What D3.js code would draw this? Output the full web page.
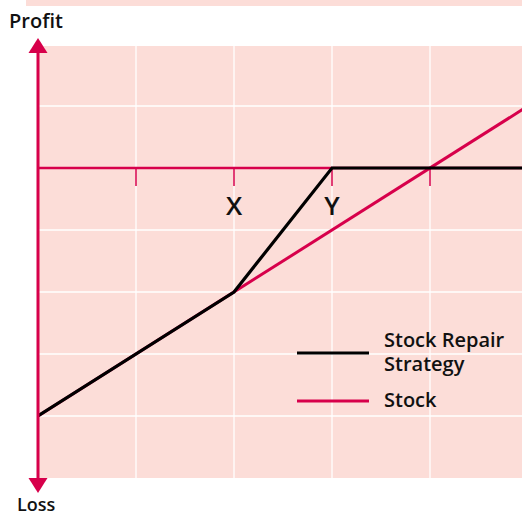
<!DOCTYPE html>
<html>
<head>
<meta charset="utf-8">
<script src="https://cdn.jsdelivr.net/npm/d3@7"></script>
<style>
  body { margin: 0; background: #fff; }
  svg { display: block; }
  text { font-family: "Open Sans", sans-serif; font-weight: 600; fill: #111; }
</style>
</head>
<body>
<svg id="chart"></svg>
<script>
// chart values
const gridX = [1, 2, 3, 4];
const gridY = [1, -1, -2, -3, -4];
const tickLabels = [{ x: 2, label: 'X' }, { x: 3, label: 'Y' }];
const stockPoints = [[0, -4], [5, 1]];
const repairPoints = [[0, -4], [2, -2], [3, 0], [5, 0]];
const legendItems = [
  { name: ['Stock Repair', 'Strategy'], color: '#000' },
  { name: ['Stock'], color: '#d7004b' }
];

const width = 522;
const height = 517;
const pink = '#fcddd8';
const red = '#d7004b';

const svg = d3.select('#chart')
  .attr('width', width)
  .attr('height', height);

const x = d3.scaleLinear().domain([0, 5]).range([38, 528]);
const y = d3.scaleLinear().domain([-5, 2]).range([478, 44]);

// strip at the top
svg.append('rect')
  .attr('x', 26).attr('y', 0)
  .attr('width', width - 26).attr('height', 6)
  .style('fill', pink);

// plot background
svg.append('rect')
  .attr('x', x(0)).attr('y', 46)
  .attr('width', width - x(0)).attr('height', y(-5) - 46)
  .style('fill', pink);

// white grid
svg.selectAll('.vgrid').data(gridX).enter().append('line')
  .attr('x1', d => x(d)).attr('x2', d => x(d))
  .attr('y1', 46).attr('y2', y(-5))
  .style('stroke', '#fff').style('stroke-width', 1.3);

svg.selectAll('.hgrid').data(gridY).enter().append('line')
  .attr('x1', x(0)).attr('x2', width)
  .attr('y1', d => y(d)).attr('y2', d => y(d))
  .style('stroke', '#fff').style('stroke-width', 1.3);

// zero line with ticks
svg.append('line')
  .attr('x1', x(0)).attr('x2', width)
  .attr('y1', y(0)).attr('y2', y(0))
  .style('stroke', red).style('stroke-width', 2.5);

svg.selectAll('.tick').data(gridX).enter().append('line')
  .attr('x1', d => x(d)).attr('x2', d => x(d))
  .attr('y1', y(0)).attr('y2', y(0) + 18)
  .style('stroke', red).style('stroke-width', 1.5);

svg.selectAll('.ticklabel').data(tickLabels).enter().append('text')
  .attr('x', d => x(d.x))
  .attr('y', y(0) + 47)
  .attr('text-anchor', 'middle')
  .style('font-size', '26px')
  .text(d => d.label);

// lines
const line = d3.line().x(d => x(d[0])).y(d => y(d[1]));

svg.append('clipPath').attr('id', 'plotclip')
  .append('rect')
  .attr('x', x(0)).attr('y', 0)
  .attr('width', width - x(0)).attr('height', height);

svg.append('path')
  .datum(stockPoints)
  .attr('d', line)
  .attr('clip-path', 'url(#plotclip)')
  .style('fill', 'none').style('stroke', red).style('stroke-width', 3);

svg.append('path')
  .datum(repairPoints)
  .attr('d', line)
  .attr('clip-path', 'url(#plotclip)')
  .style('fill', 'none').style('stroke', '#000').style('stroke-width', 3.2);

// vertical axis with arrows
svg.append('line')
  .attr('x1', x(0)).attr('x2', x(0))
  .attr('y1', 50).attr('y2', 482)
  .style('stroke', red).style('stroke-width', 3);

const ax = x(0);
svg.append('path')
  .attr('d', `M${ax},38L${ax - 9.5},53L${ax + 9.5},53Z`)
  .style('fill', red);
svg.append('path')
  .attr('d', `M${ax},493L${ax - 9.5},478L${ax + 9.5},478Z`)
  .style('fill', red);

svg.append('text')
  .attr('x', 9).attr('y', 28)
  .style('font-size', '20px')
  .text('Profit');

svg.append('text')
  .attr('x', 17).attr('y', 511)
  .style('font-size', '18px')
  .text('Loss');

// legend
const legendY = [353, 401];
const legend = svg.selectAll('.legend').data(legendItems).enter().append('g')
  .attr('transform', (d, i) => `translate(297,${legendY[i]})`);

legend.append('line')
  .attr('x1', 0).attr('x2', 72)
  .attr('y1', 0).attr('y2', 0)
  .style('stroke', d => d.color).style('stroke-width', 3);

legend.each(function (d) {
  const g = d3.select(this);
  const top = d.name.length > 1 ? -6 : 6;
  d.name.forEach((t, i) => {
    g.append('text')
      .attr('x', 87)
      .attr('y', top + i * 24)
      .style('font-size', '20px')
      .text(t);
  });
});
</script>
</body>
</html>
